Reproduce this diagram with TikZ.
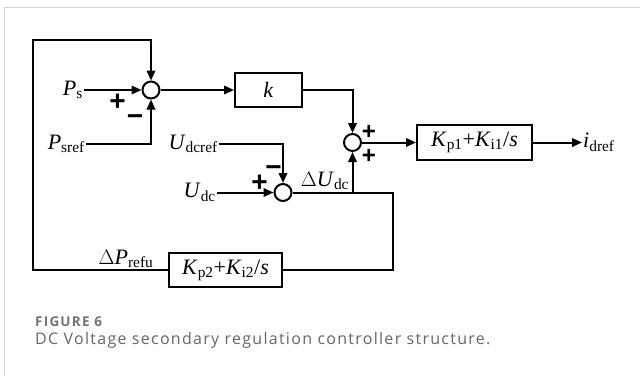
\documentclass[tikz,border=0pt]{standalone}
\usepackage{fontspec}
\setmainfont{Liberation Serif}
\newfontfamily\capfont[LetterSpace=8]{Open Sans}
\newfontfamily\figfont[LetterSpace=9]{Open Sans}
\newfontfamily\signfont{Liberation Sans}
\usetikzlibrary{arrows.meta,calc}
\newcommand\vr[2]{\textit{#1}\textsubscript{#2}}
\begin{document}
\begin{tikzpicture}[x=1pt,y=-1pt,
  wire/.style={line width=2pt},
  arr/.style={wire,-{Triangle[length=10pt,width=8.5pt]}},
  sumj/.style={circle,draw,line width=2pt,minimum size=17pt,inner sep=0pt},
  blk/.style={draw,line width=2pt,inner sep=0pt,font=\fontsize{22}{22}\selectfont},
  lab/.style={inner sep=1pt,font=\fontsize{22}{22}\selectfont},
  sgn/.style={inner sep=0pt,text height=19pt,text depth=0pt,font=\signfont\bfseries\fontsize{28}{28}\selectfont},
  sgns/.style={inner sep=0pt,text height=16.5pt,text depth=0pt,font=\signfont\bfseries\fontsize{24}{24}\selectfont}]
\useasboundingbox (0,0) rectangle (640,376);
\draw[color=black!18,line width=1pt] (4,376) -- (4,7) -- (640,7);
% blocks
\node[sumj] (s1) at (151,90) {};
\node[blk,minimum width=67pt,minimum height=34pt] (kb) at (268.5,90) {\textit{k}};
\node[sumj] (s2) at (352.5,142.5) {};
\node[blk,minimum width=115pt,minimum height=35pt] (pi1) at (474.5,142.5) {\vr{K}{p1}+\vr{K}{i1}/\textit{s}};
\node[sumj] (s3) at (283,192.5) {};
\node[blk,minimum width=113pt,minimum height=34pt] (pi2) at (225.5,270) {\vr{K}{p2}+\vr{K}{i2}/\textit{s}};
% labels
\node[lab,anchor=east] (ps) at (84,90) {\vr{P}{s}};
\node[lab,anchor=east] (psref) at (86,144) {\vr{P}{sref}};
\node[lab,anchor=east] (udcref) at (219,144) {\vr{U}{dcref}};
\node[lab,anchor=east] (udc) at (217,192.5) {\vr{U}{dc}};
\node[lab,anchor=west] (idref) at (582,142.5) {\vr{i}{dref}};
\node[lab] (du) at (325,181) {$\Delta$\vr{U}{dc}};
\node[lab] (dp) at (126,259) {$\Delta$\vr{P}{refu}};
% signs
\node[sgn] at (117.5,101) {+};
\node[sgn] at (135,116) {−};
\node[sgns] at (369,131) {+};
\node[sgns] at (369,155) {+};
\node[sgn] at (259.5,182) {+};
\node[sgn] at (273.5,167) {−};
% coordinates
\coordinate (lb) at (33,270);
\coordinate (lt) at (33,40);
\coordinate (rb) at (393,192.5);
\coordinate (br) at (s2 |- s3);
% connectors
\draw[arr] (ps.east) -- (s1.west);
\draw[arr] (psref.east) -| (s1.south);
\draw[arr] (s1.east) -- (kb.west);
\draw[arr] (kb.east) -| (s2.north);
\draw[arr] (s2.east) -- (pi1.west);
\draw[arr] (pi1.east) -- (idref.west);
\draw[arr] (udcref.east) -| (s3.north);
\draw[arr] (udc.east) -- (s3.west);
\draw[wire] (s3.east) -- (rb) |- (pi2.east);
\draw[arr] (br) -- (s2.south);
\draw[arr] (pi2.west) -- (lb) -- (lt) -| (s1.north);
% caption
\node[anchor=west,inner sep=0pt,text=black!55,font=\figfont\bfseries\fontsize{13.5}{13.5}\selectfont] (fig) at (35,322) {FIGURE 6};
\node[anchor=west,inner sep=0pt,text=black!60,font=\capfont\fontsize{16}{16}\selectfont] (cap) at (35,340.5) {DC Voltage secondary regulation controller structure.};
\end{tikzpicture}
\end{document}
